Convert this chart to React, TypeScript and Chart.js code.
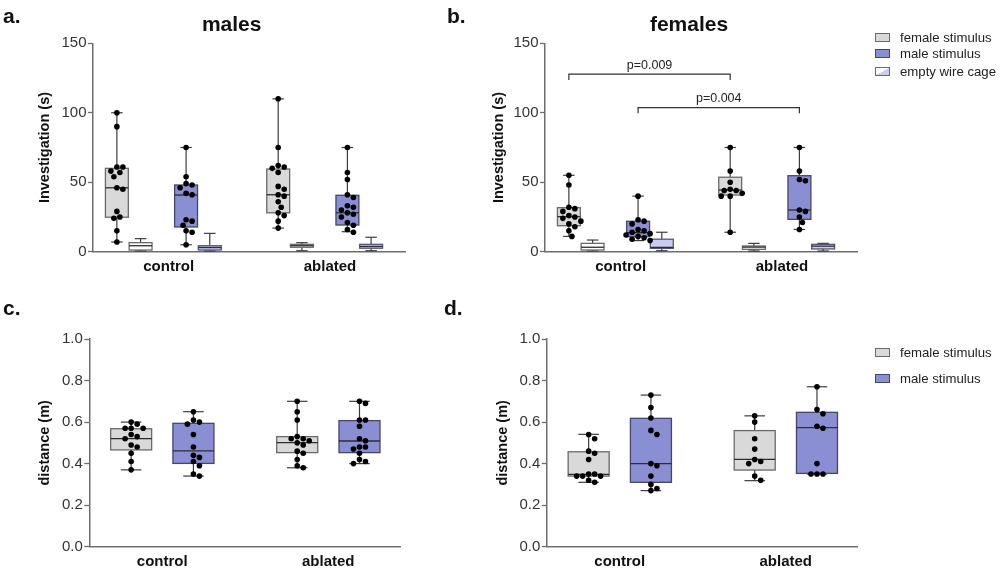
import React, { useEffect, useRef } from "react";
import { Chart, registerables } from "chart.js";
Chart.register(...registerables);

const FONT = "'Liberation Sans', Arial, Helvetica, sans-serif";
Chart.defaults.font.family = FONT;

// ---------------- DATA ----------------
const groups = ["control", "ablated"];
const legendLabels = ["female stimulus", "male stimulus", "empty wire cage"];

// box stats per group: [min, q1, median, q3, max]
// panel a: males, Investigation (s)
const aFemaleBox = [[7, 24.8, 46, 60, 100], [17, 28, 41, 59.5, 110]];
const aEmptyFBox = [[0.5, 1.2, 4.3, 6.5, 9.4], [0.7, 3.2, 4.3, 5.3, 6.5]];
const aMaleBox = [[5, 17.8, 40.8, 48, 75], [14.4, 19.2, 28, 40.6, 75]];
const aEmptyMBox = [[0.5, 1.2, 3, 4.3, 13.2], [0.7, 2.5, 3.8, 5.3, 10.4]];
const aFemalePts = [
  [100, 90, 61, 61, 58, 57, 54, 46, 45, 29, 25, 24, 15, 7],
  [110, 75, 62, 61, 60, 57, 47, 45, 41, 40, 36, 32, 28, 26, 22, 17],
];
const aMalePts = [
  [75, 54, 49, 48, 46, 42, 41, 23, 22, 19, 15, 14, 5],
  [75, 57, 52, 41, 39, 33, 32, 30, 28, 27, 25, 21, 19, 16, 14],
];

// panel b: females, Investigation (s)
const bFemaleBox = [[11, 18.7, 25.2, 31.7, 55], [14, 40.8, 44.4, 53.6, 75]];
const bEmptyFBox = [[0.5, 1.2, 3.2, 6, 8.4], [0.5, 1.7, 3.3, 4.1, 6]];
const bMaleBox = [[8, 10.8, 13.7, 21.9, 40], [16, 23.3, 30, 54.7, 75]];
const bEmptyMBox = [[0.7, 2.4, 3.1, 9, 14], [0.5, 2, 4, 5.3, 6]];
const bFemalePts = [
  [55, 48, 32, 31, 29, 26, 25, 24, 22, 20, 18, 15, 11],
  [75, 58, 50, 45, 44, 44, 42, 40, 40, 14],
];
const bMalePts = [
  [40, 23, 22, 20, 16, 15, 14, 13, 12, 11, 10, 9, 8],
  [75, 58, 52, 51, 30, 29, 25, 21, 16],
];
const bBracketLabels = ["p=0.009", "p=0.004"];
const bBracketLevels = [127.8, 103.7];
const bBracketDrops = [123.6, 99.6];

// panel c: males, distance (m)
const cFemaleBox = [[0.37, 0.466, 0.52, 0.568, 0.6], [0.38, 0.453, 0.501, 0.53, 0.7]];
const cMaleBox = [[0.34, 0.401, 0.461, 0.594, 0.65], [0.4, 0.453, 0.509, 0.607, 0.7]];
const cFemalePts = [
  [0.6, 0.59, 0.57, 0.57, 0.57, 0.54, 0.53, 0.52, 0.49, 0.48, 0.45, 0.41, 0.37],
  [0.7, 0.65, 0.61, 0.53, 0.52, 0.52, 0.51, 0.5, 0.49, 0.46, 0.45, 0.42, 0.39, 0.38],
];
const cMalePts = [
  [0.65, 0.61, 0.6, 0.59, 0.54, 0.48, 0.44, 0.43, 0.41, 0.39, 0.35, 0.34],
  [0.7, 0.69, 0.61, 0.61, 0.58, 0.52, 0.51, 0.48, 0.48, 0.47, 0.45, 0.42, 0.41, 0.4],
];

// panel d: females, distance (m)
const dFemaleBox = [[0.31, 0.34, 0.348, 0.457, 0.541], [0.318, 0.369, 0.42, 0.559, 0.63]];
const dMaleBox = [[0.27, 0.31, 0.4, 0.618, 0.73], [0.35, 0.353, 0.573, 0.647, 0.77]];
const dFemalePts = [
  [0.54, 0.52, 0.46, 0.45, 0.42, 0.35, 0.35, 0.34, 0.34, 0.34, 0.32, 0.31],
  [0.63, 0.6, 0.52, 0.47, 0.42, 0.41, 0.4, 0.34, 0.32],
];
const dMalePts = [
  [0.73, 0.67, 0.62, 0.56, 0.54, 0.4, 0.39, 0.34, 0.3, 0.28, 0.27],
  [0.77, 0.66, 0.64, 0.58, 0.57, 0.4, 0.35, 0.35, 0.35],
];

// ---------------- STYLES ----------------
const FEMALE = { fill: "#d9d9d9", stroke: "#6a6a6a" };
const MALE = { fill: "#8a8fd3", stroke: "#44466e" };
const EMPTY_F = { fill: "#ffffff", stroke: "#6a6a6a" };
const EMPTY_M = { fill: "#c9ccf6", stroke: "#55577a" };
const WHISKER = "#3c3c3c";
const MEDIAN = "#2e2e2e";
const AXIS = "#6e6e6e";

type Series = { boxes: number[][]; pts?: number[][]; offset: number; fill: string; stroke: string };
type PanelCfg = {
  key: string;
  left: number; top: number; w: number; h: number;
  yAxisW: number; padRight: number; padTop: number; padBottom: number; xAxisH: number;
  xMin: number; xMax: number; yMax: number; yStep: number; decimals: number;
  yTitle: string; yTitlePad: number; boxW: number;
  series: Series[];
  brackets?: { from: number; to: number; seriesIdx: number; level: number; drop: number; label: string }[];
};

const ABOFF = [-0.321, -0.174, 0.108, 0.255];
const CDOFF = [-0.187, 0.188];

const panels: PanelCfg[] = [
  {
    key: "a", left: 0, top: 0, w: 452, h: 286,
    yAxisW: 93, padRight: 47, padTop: 43.3, padBottom: 4.3, xAxisH: 30,
    xMin: -0.469, xMax: 1.465, yMax: 150, yStep: 50, decimals: 0,
    yTitle: "Investigation (s)", yTitlePad: 36.3, boxW: 0.142,
    series: [
      { boxes: aFemaleBox, pts: aFemalePts, offset: ABOFF[0], ...FEMALE },
      { boxes: aEmptyFBox, offset: ABOFF[1], ...EMPTY_F },
      { boxes: aMaleBox, pts: aMalePts, offset: ABOFF[2], ...MALE },
      { boxes: aEmptyMBox, offset: ABOFF[3], ...EMPTY_M },
    ],
  },
  {
    key: "b", left: 452, top: 0, w: 548, h: 286,
    yAxisW: 93, padRight: 143, padTop: 43.3, padBottom: 4.3, xAxisH: 30,
    xMin: -0.469, xMax: 1.465, yMax: 150, yStep: 50, decimals: 0,
    yTitle: "Investigation (s)", yTitlePad: 37.8, boxW: 0.142,
    series: [
      { boxes: bFemaleBox, pts: bFemalePts, offset: ABOFF[0], ...FEMALE },
      { boxes: bEmptyFBox, offset: ABOFF[1], ...EMPTY_F },
      { boxes: bMaleBox, pts: bMalePts, offset: ABOFF[2], ...MALE },
      { boxes: bEmptyMBox, offset: ABOFF[3], ...EMPTY_M },
    ],
    brackets: [
      { from: 0, to: 1, seriesIdx: 0, level: bBracketLevels[0], drop: bBracketDrops[0], label: bBracketLabels[0] },
      { from: 0, to: 1, seriesIdx: 2, level: bBracketLevels[1], drop: bBracketDrops[1], label: bBracketLabels[1] },
    ],
  },
  {
    key: "c", left: 0, top: 286, w: 452, h: 286,
    yAxisW: 89.3, padRight: 52, padTop: 53, padBottom: 3.3, xAxisH: 22,
    xMin: -0.439, xMax: 1.432, yMax: 1.0, yStep: 0.2, decimals: 1,
    yTitle: "distance (m)", yTitlePad: 36.3, boxW: 0.247,
    series: [
      { boxes: cFemaleBox, pts: cFemalePts, offset: CDOFF[0], ...FEMALE },
      { boxes: cMaleBox, pts: cMalePts, offset: CDOFF[1], ...MALE },
    ],
  },
  {
    key: "d", left: 452, top: 286, w: 548, h: 286,
    yAxisW: 94.8, padRight: 142.5, padTop: 53, padBottom: 3.3, xAxisH: 22,
    xMin: -0.439, xMax: 1.432, yMax: 1.0, yStep: 0.2, decimals: 1,
    yTitle: "distance (m)", yTitlePad: 42.3, boxW: 0.247,
    series: [
      { boxes: dFemaleBox, pts: dFemalePts, offset: CDOFF[0], ...FEMALE },
      { boxes: dMaleBox, pts: dMalePts, offset: CDOFF[1], ...MALE },
    ],
  },
];

const DOT_D = 5.8;
const STEP = 3;

// deterministic beeswarm layout (pixel-space collision avoidance)
function swarm(values: number[], center: number, pxPerX: number, pxPerY: number) {
  const placed: { x: number; y: number }[] = [];
  const sorted = [...values].sort((a, b) => b - a);
  return sorted.map((v) => {
    const py = v * pxPerY;
    let off = 0;
    for (let k = 0; k < 60; k++) {
      const m = Math.ceil(k / 2);
      off = k === 0 ? 0 : (k % 2 === 1 ? m : -m) * STEP;
      const o = off;
      if (placed.every((p) => Math.hypot(p.x - o, p.y - py) >= DOT_D)) break;
    }
    placed.push({ x: off, y: py });
    return { x: center + off / pxPerX, y: v };
  });
}

function buildConfig(p: PanelCfg): any {
  const plotW = p.w - p.yAxisW - p.padRight;
  const plotH = p.h - p.padTop - p.padBottom - p.xAxisH;
  const pxPerX = plotW / (p.xMax - p.xMin);
  const pxPerY = plotH / p.yMax;

  const datasets: any[] = [];
  p.series.forEach((s) => {
    if (!s.pts) return;
    const data: { x: number; y: number }[] = [];
    s.pts.forEach((vals, g) => data.push(...swarm(vals, g + s.offset, pxPerX, pxPerY)));
    datasets.push({
      type: "scatter",
      data,
      pointRadius: 2.8,
      pointHoverRadius: 2.8,
      backgroundColor: "#000",
      borderWidth: 0,
      clip: false,
    });
  });

  const boxPlugin = {
    id: "boxes_" + p.key,
    beforeDatasetsDraw(chart: any) {
      const { ctx } = chart;
      const xs = chart.scales.x;
      const ys = chart.scales.y;
      const line = (x1: number, y1: number, x2: number, y2: number) => {
        ctx.beginPath();
        ctx.moveTo(x1, y1);
        ctx.lineTo(x2, y2);
        ctx.stroke();
      };
      ctx.save();
      p.series.forEach((s) =>
        s.boxes.forEach((b, g) => {
          const cx = xs.getPixelForValue(g + s.offset);
          const hw = xs.getPixelForValue(g + s.offset + p.boxW / 2) - cx;
          const [mn, q1, md, q3, mx] = b.map((v) => ys.getPixelForValue(v));
          ctx.strokeStyle = WHISKER;
          ctx.lineWidth = 1.2;
          line(cx, mx, cx, q3);
          line(cx, q1, cx, mn);
          line(cx - hw / 2, mx, cx + hw / 2, mx);
          line(cx - hw / 2, mn, cx + hw / 2, mn);
          ctx.fillStyle = s.fill;
          ctx.fillRect(cx - hw, q3, 2 * hw, q1 - q3);
          ctx.strokeStyle = s.stroke;
          ctx.lineWidth = 1.3;
          ctx.strokeRect(cx - hw, q3, 2 * hw, q1 - q3);
          ctx.strokeStyle = MEDIAN;
          ctx.lineWidth = 1.3;
          line(cx - hw, md, cx + hw, md);
        })
      );
      ctx.restore();
    },
    afterDatasetsDraw(chart: any) {
      if (!p.brackets) return;
      const { ctx } = chart;
      const xs = chart.scales.x;
      const ys = chart.scales.y;
      ctx.save();
      p.brackets.forEach((br) => {
        const off = p.series[br.seriesIdx].offset;
        const x1 = xs.getPixelForValue(br.from + off);
        const x2 = xs.getPixelForValue(br.to + off);
        const yl = ys.getPixelForValue(br.level);
        const yd = ys.getPixelForValue(br.drop);
        ctx.strokeStyle = "#333";
        ctx.lineWidth = 1.2;
        ctx.beginPath();
        ctx.moveTo(x1, yd);
        ctx.lineTo(x1, yl);
        ctx.lineTo(x2, yl);
        ctx.lineTo(x2, yd);
        ctx.stroke();
        ctx.fillStyle = "#222";
        ctx.font = `12.5px ${FONT}`;
        ctx.textAlign = "center";
        ctx.textBaseline = "middle";
        ctx.fillText(br.label, (x1 + x2) / 2, yl - 9);
      });
      ctx.restore();
    },
  };

  return {
    type: "scatter",
    data: { datasets },
    plugins: [boxPlugin],
    options: {
      responsive: false,
      animation: false,
      events: [],
      layout: { padding: { left: 0, right: p.padRight, top: p.padTop, bottom: p.padBottom } },
      plugins: { legend: { display: false }, tooltip: { enabled: false }, title: { display: false } },
      scales: {
        x: {
          type: "linear",
          min: p.xMin,
          max: p.xMax,
          afterBuildTicks: (s: any) => {
            s.ticks = groups.map((_, i) => ({ value: i }));
          },
          afterFit: (s: any) => {
            s.height = p.xAxisH;
          },
          ticks: {
            callback: (_v: any, i: number) => groups[i],
            font: { size: 15, weight: "bold", family: FONT },
            color: "#111",
            padding: 6,
            autoSkip: false,
            maxRotation: 0,
          },
          grid: { display: true, drawOnChartArea: false, drawTicks: false },
          border: { display: true, color: AXIS, width: 1.5 },
        },
        y: {
          type: "linear",
          min: 0,
          max: p.yMax,
          afterFit: (s: any) => {
            s.width = p.yAxisW;
          },
          ticks: {
            stepSize: p.yStep,
            callback: (v: any) => Number(v).toFixed(p.decimals),
            font: { size: 15, family: FONT },
            color: "#333",
            padding: 1.5,
          },
          grid: { drawOnChartArea: false, drawTicks: true, tickLength: 5, color: AXIS, tickWidth: 1.3 },
          border: { display: true, color: AXIS, width: 1.5 },
          title: {
            display: true,
            text: p.yTitle,
            font: { size: 14.5, weight: "bold", family: FONT },
            color: "#111",
            padding: { top: p.yTitlePad, bottom: 0 },
          },
        },
      },
    },
  };
}

function Panel({ p }: { p: PanelCfg }) {
  const ref = useRef<HTMLCanvasElement>(null);
  useEffect(() => {
    const chart = new Chart(ref.current as HTMLCanvasElement, buildConfig(p));
    return () => chart.destroy();
  }, []);
  return (
    <canvas
      ref={ref}
      width={p.w}
      height={p.h}
      style={{ position: "absolute", left: p.left, top: p.top, width: p.w, height: p.h }}
    />
  );
}

const textStyle = (x: number, y: number, size: number, bold: boolean, align: "left" | "center"): React.CSSProperties => ({
  position: "absolute",
  left: x,
  top: y,
  transform: align === "center" ? "translate(-50%, -50%)" : "translate(0, -50%)",
  fontFamily: FONT,
  fontSize: size,
  fontWeight: bold ? "bold" : "normal",
  color: "#111",
  whiteSpace: "nowrap",
  lineHeight: 1,
});

const legendSwatches = [
  { background: FEMALE.fill, border: FEMALE.stroke },
  { background: MALE.fill, border: MALE.stroke },
  { background: `linear-gradient(to top left, ${EMPTY_M.fill} 50%, #ffffff 50%)`, border: EMPTY_F.stroke },
];

function Legend({ x, ys, count }: { x: number; ys: number[]; count: number }) {
  return (
    <>
      {legendLabels.slice(0, count).map((lab, i) => (
        <React.Fragment key={lab}>
          <div
            style={{
              position: "absolute",
              left: x,
              top: ys[i] - 5,
              width: 15,
              height: 9,
              background: legendSwatches[i].background,
              border: `1px solid ${legendSwatches[i].border}`,
              boxSizing: "border-box",
            }}
          />
          <div style={{ ...textStyle(x + 25, ys[i], 13.2, false, "left"), color: "#222" }}>{lab}</div>
        </React.Fragment>
      ))}
    </>
  );
}

export default function App() {
  return (
    <div style={{ position: "absolute", left: 0, top: 0, width: 1000, height: 572, background: "#fff", overflow: "hidden" }}>
      {panels.map((p) => (
        <Panel key={p.key} p={p} />
      ))}
      <div style={textStyle(3, 15, 21, true, "left")}>a.</div>
      <div style={textStyle(447, 15, 21, true, "left")}>b.</div>
      <div style={textStyle(3, 307, 21, true, "left")}>c.</div>
      <div style={textStyle(444, 307, 21, true, "left")}>d.</div>
      <div style={textStyle(231.7, 23.3, 21, true, "center")}>males</div>
      <div style={textStyle(689, 23.3, 21, true, "center")}>females</div>
      <Legend x={875} ys={[37.5, 54.3, 71.7]} count={3} />
      <Legend x={875} ys={[353.3, 379]} count={2} />
    </div>
  );
}
